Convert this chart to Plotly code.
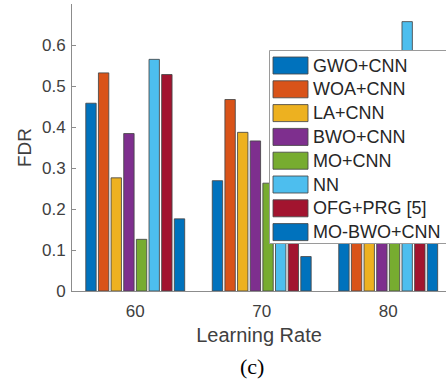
import plotly.graph_objects as go

categories = ["60", "70", "80"]
methods = ["GWO+CNN", "WOA+CNN", "LA+CNN", "BWO+CNN", "MO+CNN", "NN", "OFG+PRG [5]", "MO-BWO+CNN"]
colors = ["#0072BD", "#D95319", "#EDB120", "#7E2F8E", "#77AC30", "#4DBEEE", "#A2142F", "#0072BD"]
gwo_cnn = [0.458, 0.269, 0.37]
woa_cnn = [0.532, 0.467, 0.52]
la_cnn = [0.276, 0.387, 0.42]
bwo_cnn = [0.384, 0.366, 0.47]
mo_cnn = [0.126, 0.263, 0.33]
nn = [0.565, 0.52, 0.657]
ofg_prg = [0.528, 0.41, 0.55]
mo_bwo_cnn = [0.176, 0.084, 0.20]
series = [gwo_cnn, woa_cnn, la_cnn, bwo_cnn, mo_cnn, nn, ofg_prg, mo_bwo_cnn]
y_ticks = [0, 0.1, 0.2, 0.3, 0.4, 0.5, 0.6]

W, H = 446, 390
ML, MR, MT, MB = 72, 0, 4, 99
PW, PH = W - ML - MR, H - MT - MB

def px(x):
    return (x - ML) / PW

def py(y):
    return 1 - (y - MT) / PH

fig = go.Figure()
for name, vals, col in zip(methods, series, colors):
    fig.add_trace(go.Bar(
        x=categories, y=vals, name=name,
        marker=dict(color=col, line=dict(color="rgba(70,70,70,0.85)", width=1)),
        showlegend=False,
    ))

font = "Liberation Sans, Arial, sans-serif"
tc = "#404040"
fig.update_layout(
    width=W, height=H,
    margin=dict(l=ML, r=MR, t=MT, b=MB),
    paper_bgcolor="white", plot_bgcolor="white",
    barmode="group", bargap=0.2, bargroupgap=0.18,
    font=dict(family=font, color=tc, size=17),
)
fig.update_xaxes(
    type="category", range=[-0.5, 2.457],
    showline=True, linecolor="#8c8c8c", linewidth=1,
    ticks="", showgrid=False, zeroline=False,
    tickfont=dict(size=17, color=tc), ticklabelstandoff=5,
    title=dict(text="Learning Rate", font=dict(size=20, color=tc), standoff=7),
)
fig.update_yaxes(
    range=[0, 0.7], tickvals=y_ticks, ticktext=[f"{v:g}" for v in y_ticks],
    showline=True, linecolor="#8c8c8c", linewidth=1,
    ticks="inside", ticklen=4, tickcolor="#8c8c8c",
    showgrid=False, zeroline=False,
    tickfont=dict(size=17, color=tc), ticklabelstandoff=2,
    title=dict(text="FDR", font=dict(size=19, color=tc), standoff=5),
)

# custom legend box (drawn over bars)
shapes = [dict(type="rect", xref="paper", yref="paper",
               x0=px(269.5), x1=px(470), y0=py(243.5), y1=py(50.5),
               fillcolor="white", line=dict(color="#9a9a9a", width=1), layer="above")]
annotations = []
for i, (name, col) in enumerate(zip(methods, colors)):
    cy = 65.5 + 23.8 * i
    shapes.append(dict(type="rect", xref="paper", yref="paper",
                       x0=px(273), x1=px(308), y0=py(cy + 8.5), y1=py(cy - 8.5),
                       fillcolor=col, line=dict(color="rgba(70,70,70,0.85)", width=1), layer="above"))
    annotations.append(dict(xref="paper", yref="paper", x=px(310.5), y=py(cy),
                            text=name, showarrow=False, xanchor="left", yanchor="middle",
                            font=dict(size=18, color="#262626", family=font)))
annotations.append(dict(xref="paper", yref="paper", x=px(251.5), y=py(366),
                        text="(c)", showarrow=False, xanchor="center", yanchor="middle",
                        font=dict(size=22, color="black", family="Liberation Serif, Times New Roman, serif")))
fig.update_layout(shapes=shapes, annotations=annotations)

fig.write_html("out.html")
